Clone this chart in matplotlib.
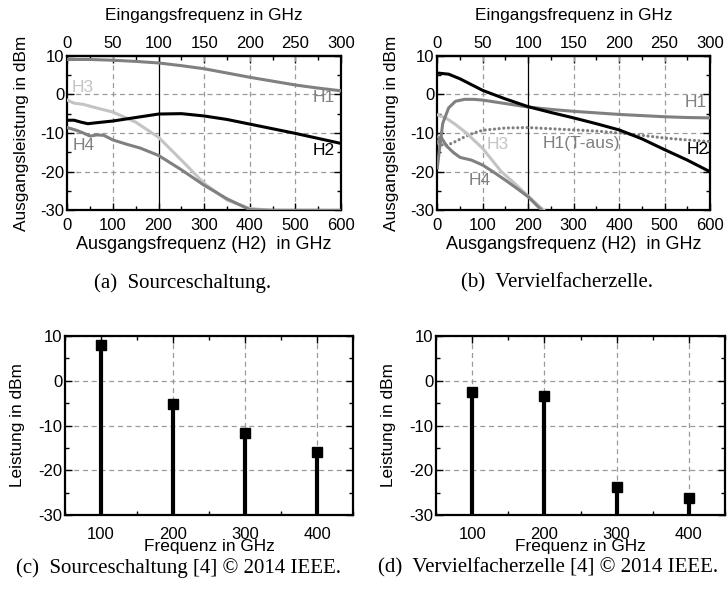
import numpy as np
import matplotlib
matplotlib.use("Agg")
import matplotlib.pyplot as plt
from matplotlib.ticker import MultipleLocator

plt.rcParams['font.family'] = ['Liberation Sans', 'DejaVu Sans']
plt.rcParams['axes.unicode_minus'] = False

# ---------------- data ----------------
# Panel (a) Sourceschaltung  (x = Ausgangsfrequenz H2 in GHz)
a_h1_x = [0, 50, 100, 150, 200, 250, 300, 350, 400, 450, 500, 550, 600]
a_h1_y = [9.0, 9.0, 8.8, 8.5, 8.1, 7.4, 6.6, 5.5, 4.4, 3.4, 2.4, 1.6, 0.9]
a_h2_x = [0, 15, 30, 45, 60, 100, 150, 200, 250, 300, 350, 400, 450, 500, 550, 600]
a_h2_y = [-6.7, -6.7, -7.2, -7.6, -7.4, -6.9, -6.0, -5.1, -5.0, -5.6, -6.5, -7.7, -8.9, -10.1, -11.4, -12.7]
a_h3_x = [0, 15, 35, 60, 100, 150, 200, 250, 300, 350, 400, 450, 550]
a_h3_y = [-1.5, -2.3, -2.6, -3.4, -4.6, -7.2, -11.1, -17.0, -23.0, -27.3, -29.5, -30.0, -30.0]
a_h4_x = [0, 20, 35, 50, 65, 80, 100, 130, 160, 200, 250, 300, 350, 400, 450, 600]
a_h4_y = [-8.6, -9.3, -10.0, -10.8, -10.5, -10.6, -11.8, -12.9, -13.9, -15.8, -19.5, -23.5, -27.0, -29.8, -30.0, -30.0]

# Panel (b) Vervielfacherzelle
b_h1_x = [0, 5, 12, 25, 40, 60, 80, 100, 150, 200, 250, 300, 350, 400, 450, 500, 550, 600]
b_h1_y = [-19.0, -14.0, -7.5, -3.5, -1.8, -1.3, -1.3, -1.5, -2.4, -3.3, -3.9, -4.4, -4.8, -5.2, -5.5, -5.8, -6.0, -6.1]
b_h2_x = [0, 25, 50, 75, 100, 150, 200, 250, 300, 350, 400, 450, 500, 550, 600]
b_h2_y = [5.5, 5.2, 4.0, 2.5, 1.0, -1.2, -3.2, -4.7, -6.1, -7.6, -9.2, -11.5, -14.3, -17.0, -20.0]
b_h3_x = [0, 20, 40, 64, 100, 141, 170, 200, 225, 235]
b_h3_y = [-5.3, -6.2, -7.8, -10.0, -14.0, -20.0, -23.0, -26.3, -29.0, -30.0]
b_h4_x = [0, 8, 20, 35, 50, 75, 100, 125, 150, 175, 200, 230]
b_h4_y = [-12.5, -11.0, -13.3, -15.0, -16.3, -17.0, -18.3, -20.2, -22.2, -24.3, -26.5, -30.0]
b_h1t_x = [0, 12, 25, 40, 60, 80, 100, 150, 200, 250, 300, 350, 400, 450, 500, 550, 600]
b_h1t_y = [-11.0, -13.3, -13.0, -12.2, -11.0, -10.0, -9.3, -8.7, -8.6, -8.9, -9.2, -9.5, -10.0, -10.6, -11.3, -11.8, -12.2]

# Panels (c), (d): measured harmonics
freqs = [100, 200, 300, 400]
c_power = [8.1, -5.1, -11.6, -15.9]
d_power = [-2.6, -3.3, -23.7, -26.3]

captions = ["(a)  Sourceschaltung.", "(b)  Vervielfacherzelle.",
            "(c)  Sourceschaltung [4] \u00a9 2014 IEEE.", "(d)  Vervielfacherzelle [4] \u00a9 2014 IEEE."]

# ---------------- figure ----------------
W, H = 727, 599
fig = plt.figure(figsize=(W / 100, H / 100), dpi=100)

def ax_px(l, r, t, b):
    return fig.add_axes([l / W, 1 - b / H, (r - l) / W, (b - t) / H])

DARK = '#808080'
LIGHT = '#c4c4c4'
GRIDC = '#9a9a9a'
TS = 12
LS = 12.4
HS = 12.5

def style_common(ax, xpad):
    for s in ax.spines.values():
        s.set_linewidth(1.6)
    ax.tick_params(which='both', direction='in', top=True, right=True, labelsize=TS)
    ax.tick_params(axis='y', pad=2)
    ax.tick_params(axis='x', pad=xpad)
    ax.tick_params(which='major', length=5, width=1.0)
    ax.tick_params(which='minor', length=3, width=1.0)

def top_panel(ax):
    ax.set_xlim(0, 600)
    ax.set_ylim(-30, 10)
    ax.xaxis.set_major_locator(MultipleLocator(100))
    ax.xaxis.set_minor_locator(MultipleLocator(50))
    ax.yaxis.set_major_locator(MultipleLocator(10))
    ax.yaxis.set_minor_locator(MultipleLocator(5))
    style_common(ax, 5.2)
    ax.tick_params(top=False, which='both')
    for gx in [100, 300, 400, 500]:
        ax.axvline(gx, color=GRIDC, lw=0.9, ls=(0, (4, 3)), zorder=1)
    for gy in [0, -10, -20]:
        ax.axhline(gy, color=GRIDC, lw=0.9, ls=(0, (4, 3)), zorder=1)
    ax.axvline(200, color='black', lw=0.9, zorder=1)
    ax.set_xlabel("Ausgangsfrequenz (H2)  in GHz", fontsize=13, labelpad=2.5)
    ax.set_ylabel("Ausgangsleistung in dBm", fontsize=LS, labelpad=8.5)
    sec = ax.secondary_xaxis('top', functions=(lambda x: x / 2, lambda x: x * 2))
    sec.xaxis.set_major_locator(MultipleLocator(50))
    sec.xaxis.set_minor_locator(MultipleLocator(25))
    sec.tick_params(which='both', direction='in', labelsize=TS, pad=3.5)
    sec.tick_params(which='major', length=5, width=1.0)
    sec.tick_params(which='minor', length=3, width=1.0)
    sec.spines['top'].set_linewidth(1.6)
    sec.set_xlabel("Eingangsfrequenz in GHz", fontsize=LS, labelpad=11.5)

LW = 2.2

# Panel a
axa = ax_px(67.3, 341, 55.6, 210.4)
top_panel(axa)
axa.plot(a_h1_x, a_h1_y, color=DARK, lw=LW, zorder=3)
axa.plot(a_h3_x, a_h3_y, color=LIGHT, lw=LW, zorder=3)
axa.plot(a_h4_x, a_h4_y, color=DARK, lw=LW, zorder=3)
axa.plot(a_h2_x, a_h2_y, color='black', lw=LW, zorder=4)
axa.text(10, 1.7, "H3", color=LIGHT, fontsize=HS, va='center', ha='left')
axa.text(12, -13.2, "H4", color=DARK, fontsize=HS, va='center', ha='left')
axa.text(537, -0.9, "H1", color=DARK, fontsize=HS, va='center', ha='left')
axa.text(537, -14.5, "H2", color='black', fontsize=HS, va='center', ha='left')

# Panel b
axb = ax_px(437.3, 710, 55.6, 210.4)
top_panel(axb)
axb.plot(b_h1t_x, b_h1t_y, color=DARK, lw=2.3, ls=(0, (0.01, 1.45)), dash_capstyle='round', zorder=3)
axb.plot(b_h3_x, b_h3_y, color=LIGHT, lw=LW, zorder=3)
axb.plot(b_h4_x, b_h4_y, color=DARK, lw=LW, zorder=3)
axb.plot(b_h1_x, b_h1_y, color=DARK, lw=LW, zorder=3)
axb.plot(b_h2_x, b_h2_y, color='black', lw=LW, zorder=4)
axb.text(545, -2.2, "H1", color=DARK, fontsize=HS, va='center', ha='left')
axb.text(548, -14.3, "H2", color='black', fontsize=HS, va='center', ha='left')
axb.text(108, -13.0, "H3", color=LIGHT, fontsize=HS, va='center', ha='left')
axb.text(68, -22.2, "H4", color=DARK, fontsize=HS, va='center', ha='left')
axb.text(232, -12.6, "H1(T-aus)", color=DARK, fontsize=HS, va='center', ha='left')

# Panels c, d
def stem_panel(ax, vals):
    ax.set_xlim(50, 450)
    ax.set_ylim(-30, 10)
    ax.xaxis.set_major_locator(MultipleLocator(100))
    ax.xaxis.set_minor_locator(MultipleLocator(50))
    ax.yaxis.set_major_locator(MultipleLocator(10))
    ax.yaxis.set_minor_locator(MultipleLocator(5))
    style_common(ax, 8.4)
    ax.grid(True, which='major', color=GRIDC, lw=0.9, ls=(0, (4, 3)))
    ax.set_axisbelow(True)
    ml, sl, bl = ax.stem(freqs, vals, bottom=-30, basefmt=' ')
    plt.setp(sl, color='black', lw=3.0)
    plt.setp(ml, color='black', marker='s', markersize=7.5)
    ax.set_xlabel("Frequenz in GHz", fontsize=LS, labelpad=-2)
    ax.set_ylabel("Leistung in dBm", fontsize=LS, labelpad=9.5)

axc = ax_px(65, 353, 336, 515)
stem_panel(axc, c_power)
axd = ax_px(436, 725, 336, 515)
stem_panel(axd, d_power)

# Captions
cap_font = ['Liberation Serif', 'DejaVu Serif']
CS = 15
fig.text(183 / W, 1 - 283 / H, captions[0], ha='center', va='center', fontsize=CS, family=cap_font)
fig.text(557 / W, 1 - 283 / H, captions[1], ha='center', va='center', fontsize=CS, family=cap_font)
fig.text(179 / W, 1 - 568 / H, captions[2], ha='center', va='center', fontsize=CS, family=cap_font)
fig.text(548 / W, 1 - 568 / H, captions[3], ha='center', va='center', fontsize=CS, family=cap_font)

fig.savefig("out.png", dpi=100, facecolor='white')
